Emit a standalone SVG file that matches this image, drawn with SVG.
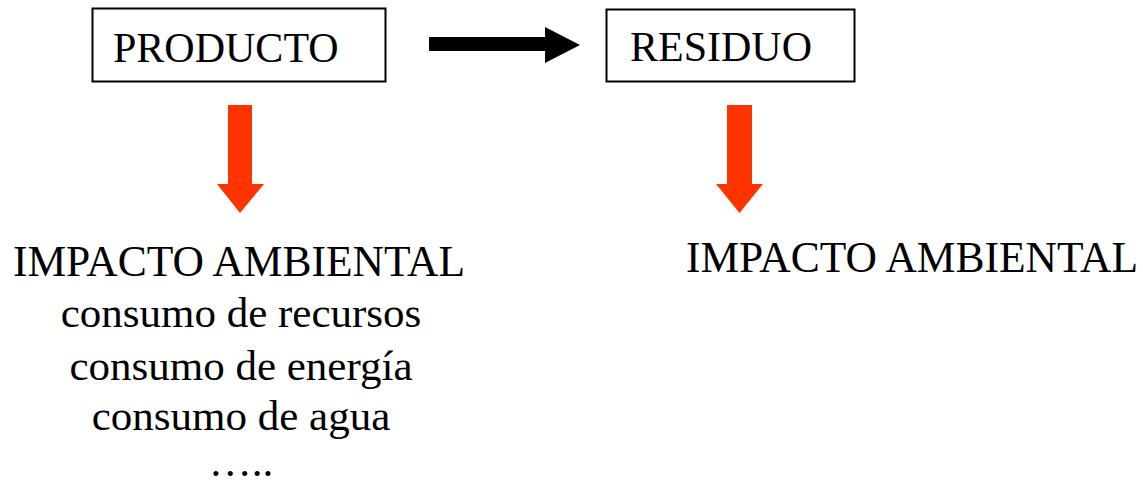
<svg xmlns="http://www.w3.org/2000/svg" width="1143" height="486" viewBox="0 0 1143 486">
  <style>
    .box { fill: #ffffff; stroke: #000000; stroke-width: 2; }
    .t { font-family: "Liberation Serif", "Times New Roman", serif; font-size: 42px; fill: #000000; }
    .big { font-size: 43.5px; }
    .mid { font-size: 43px; }
    .red { fill: #FF3300; }
  </style>
  <rect width="1143" height="486" fill="#ffffff"/>
  <g id="producto">
    <rect class="box" x="92.5" y="8.5" width="293" height="73"/>
    <text class="t" x="113" y="62">PRODUCTO</text>
  </g>
  <g id="residuo">
    <rect class="box" x="606.5" y="9.5" width="248" height="72"/>
    <text class="t" x="630" y="61">RESIDUO</text>
  </g>
  <g id="impacto-producto">
    <text class="t big" x="239" y="276" text-anchor="middle">IMPACTO AMBIENTAL</text>
    <text class="t mid" x="241" y="327" text-anchor="middle">consumo de recursos</text>
    <text class="t mid" x="241" y="380" text-anchor="middle">consumo de energía</text>
    <text class="t mid" x="241" y="430" text-anchor="middle">consumo de agua</text>
    <text class="t mid" x="241" y="476" text-anchor="middle">…..</text>
  </g>
  <g id="impacto-residuo">
    <text class="t big" x="912" y="272" text-anchor="middle">IMPACTO AMBIENTAL</text>
  </g>
  <g id="connectors">
    <polygon fill="#000000" points="429,37 545,37 545,27 580,45 545,63 545,51 429,51"/>
    <polygon class="red" points="228,105 252,105 252,184 264,184 240,213 217,184 228,184"/>
    <polygon class="red" points="727,105 752,105 752,184 763,184 739.5,213 716,184 727,184"/>
  </g>
</svg>
